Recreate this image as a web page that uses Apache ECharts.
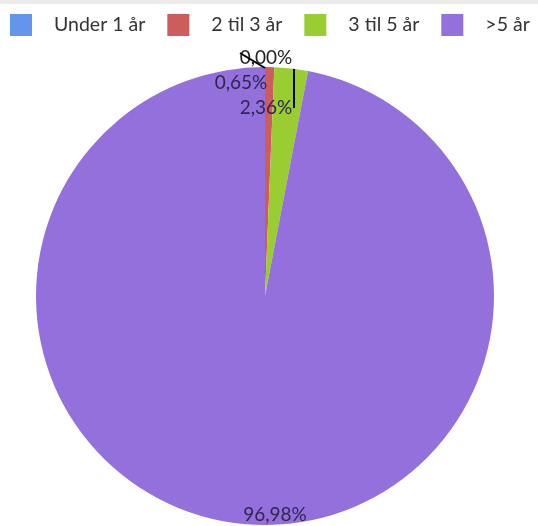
<!DOCTYPE html>
<html>
<head>
<meta charset="utf-8">
<script src="https://cdn.jsdelivr.net/npm/echarts@6/dist/echarts.min.js"></script>
<style>
  html, body { margin: 0; padding: 0; background: #ffffff; }
  #chart { width: 538px; height: 526px; }
</style>
</head>
<body>
<div id="chart"></div>
<script>
// Age groups and their share (%)
const categories = ['Under 1 år', '2 til 3 år', '3 til 5 år', '>5 år'];
const shares = [0.00, 0.65, 2.36, 96.98];
const colors = ['#6495ED', '#CD5C5C', '#9ACD32', '#9370DB'];

const chart = echarts.init(document.getElementById('chart'));

// Pie geometry
const cx = 265, cy = 296, R = 229;

// Label placement (offsets from pie centre) and leader lines (offsets too)
const labelSpots = [
  { dx: 1, dy: -238, color: '#222222', line: [[0, -R + 1], [-25, -R - 14]] },
  { dx: -24, dy: -213, color: '#2f2650', line: null },
  { dx: 1, dy: -188, color: '#2f2650', line: [[29, -R + 2], [29, -188]] },
  { dx: 10, dy: 219, color: '#2f2650', line: null }
];

const fmt = v => v.toFixed(2).replace('.', ',') + '%';

// Leader lines drawn on top of the pie
const leaderLines = labelSpots.filter(s => s.line).map(s => ({
  type: 'line', z: 100, silent: true,
  shape: {
    x1: cx + s.line[0][0], y1: cy + s.line[0][1],
    x2: cx + s.line[1][0], y2: cy + s.line[1][1]
  },
  style: { stroke: '#000000', lineWidth: 2 }
}));

chart.setOption({
  backgroundColor: '#ffffff',
  animation: false,
  color: colors,
  graphic: [{
    type: 'rect', left: 0, top: 0,
    shape: { width: 538, height: 4 },
    style: { fill: '#ebebeb' }, silent: true
  }].concat(leaderLines),
  legend: {
    top: 9, left: 5, right: 0,
    padding: [5, 0, 5, 5],
    itemWidth: 22, itemHeight: 22, itemGap: 22,
    icon: 'rect',
    textStyle: { fontFamily: 'Lato', fontSize: 19.5, color: '#333333', padding: [0, 0, 0, 17] },
    data: categories
  },
  series: [{
    type: 'pie',
    center: [cx, cy],
    radius: [0, R],
    startAngle: 90,
    clockwise: true,
    avoidLabelOverlap: false,
    stillShowZeroSum: true,
    data: categories.map((name, i) => ({
      name, value: shares[i],
      label: { color: labelSpots[i].color }
    })),
    label: {
      show: true,
      position: 'outside',
      formatter: p => fmt(p.value),
      fontFamily: 'Lato',
      fontSize: 19
    },
    labelLine: { show: false },
    itemStyle: { borderWidth: 0 },
    emphasis: { disabled: true },
    labelLayout: function (params) {
      const s = labelSpots[params.dataIndex];
      return {
        x: cx + s.dx, y: cy + s.dy,
        align: 'center', verticalAlign: 'middle'
      };
    }
  }]
});
</script>
</body>
</html>
